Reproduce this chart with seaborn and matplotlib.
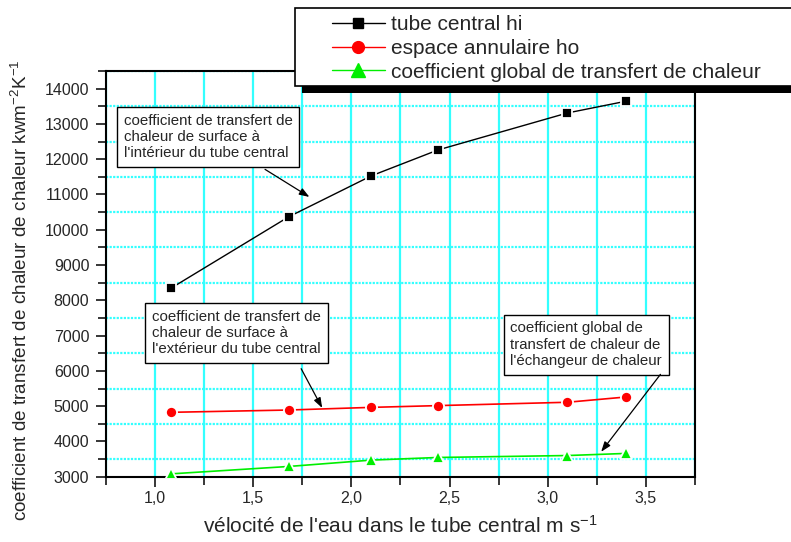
import matplotlib
matplotlib.use("Agg")
import matplotlib.pyplot as plt
from matplotlib.lines import Line2D
from matplotlib.patches import Rectangle
from matplotlib.ticker import MultipleLocator, FuncFormatter
import seaborn as sns

# values
velocity = [1.08, 1.68, 2.10, 2.44, 3.10, 3.40]
hi_tube = [8340, 10365, 11525, 12260, 13310, 13645]
ho_annulus = [4825, 4890, 4965, 5015, 5110, 5260]
u_global = [3080, 3290, 3470, 3545, 3600, 3660]

labels = ["tube central hi", "espace annulaire ho",
          "coefficient global de transfert de chaleur"]
notes = [
    "coefficient de transfert de\nchaleur de surface à\nl'intérieur du tube central",
    "coefficient de transfert de\nchaleur de surface à\nl'extérieur du tube central",
    "coefficient global de\ntransfert de chaleur de\nl'échangeur de chaleur",
]

sns.set_style("ticks")
plt.rcParams["font.family"] = ["Liberation Sans", "DejaVu Sans"]
plt.rcParams["mathtext.default"] = "regular"

W, H = 791, 542
fig, ax = plt.subplots(figsize=(W / 100, H / 100), dpi=100)
ax.set_position([106 / W, 1 - 476.7 / H, (695 - 106) / W, (476.7 - 71) / H])

# colour, marker, marker size (plot), line width, marker size (legend)
styles = [("black", "s", 6.5, 1.0, 6.5), ("red", "o", 8, 1.2, 8.5),
          ("#00ee00", "^", 9, 1.2, 9.5)]
for yvals, (col, mk, ms, lw, _) in zip([hi_tube, ho_annulus, u_global], styles):
    sns.lineplot(x=velocity, y=yvals, ax=ax, color=col, lw=lw, marker=mk,
                 markersize=ms, markeredgecolor="white", markeredgewidth=1.3,
                 sort=False, errorbar=None, zorder=4)

ax.set_xlim(0.75, 3.75)
ax.set_ylim(3000, 14500)
ax.xaxis.set_major_locator(MultipleLocator(0.5))
ax.xaxis.set_minor_locator(MultipleLocator(0.25))
ax.yaxis.set_major_locator(MultipleLocator(1000))
ax.yaxis.set_minor_locator(MultipleLocator(500))
ax.xaxis.set_major_formatter(FuncFormatter(lambda v, _: f"{v:.1f}".replace(".", ",")))

ax.grid(which="both", axis="x", color="#33ffff", lw=1.6, ls="-")
ax.grid(which="minor", axis="y", color="#33ffff", lw=1.6, ls=(0, (1, 0.6)))
ax.grid(which="major", axis="y", visible=False)
ax.set_axisbelow(True)

for side in ["left", "bottom", "top", "right"]:
    ax.spines[side].set_visible(True)
    ax.spines[side].set_color("black")
    ax.spines[side].set_linewidth(1.5)
ax.tick_params(which="both", direction="out", width=1.3, labelsize=11.5,
               top=False, right=False)
ax.tick_params(which="major", length=7)
ax.tick_params(which="minor", length=6)
ax.tick_params(axis="y", pad=5)
ax.tick_params(axis="x", pad=3)

ax.set_xlabel("vélocité de l'eau dans le tube central m s$^{-1}$", fontsize=15)
ax.set_ylabel("coefficient de transfert de chaleur de chaleur kwm$^{-2}$K$^{-1}$",
              fontsize=13.6)
ax.yaxis.set_label_coords(-0.128, 0.46)
ax.xaxis.set_label_coords(0.5, -0.093)

# annotation boxes and arrows
box = dict(boxstyle="square,pad=0.45", fc="white", ec="black", lw=1)
arrow = dict(arrowstyle="-|>,head_length=0.5,head_width=0.18", color="black",
             lw=0.9, mutation_scale=12, shrinkA=0, shrinkB=0)
text_pos = [(0.84, 13294), (0.984, 7737), (2.81, 7400)]
arrow_tail = [(1.56, 11712), (1.744, 6062), (3.574, 5901)]
arrow_head = [(1.786, 10930), (1.851, 4949), (3.272, 3706)]
for note, (tx, ty), tail, head in zip(notes, text_pos, arrow_tail, arrow_head):
    ax.text(tx, ty, note, fontsize=10.8, ha="left", va="top", bbox=box,
            zorder=6, linespacing=1.2)
    ax.annotate("", xy=head, xytext=tail, arrowprops=arrow, zorder=6)

# legend box with heavy drop shadow, running off the right edge
fig.add_artist(Rectangle((302 / W, 1 - 93 / H), 600 / W, 78 / H, fc="black",
                         ec="none", transform=fig.transFigure, zorder=3))
fig.add_artist(Rectangle((295 / W, 1 - 86 / H), 600 / W, 78 / H, fc="white",
                         ec="black", lw=1.2, transform=fig.transFigure, zorder=4))
proxies = [Line2D([], [], color=col, lw=1, marker=mk, markersize=lms,
                  markeredgecolor=col) for col, mk, ms, lw, lms in styles]
fig.legend(proxies, labels, loc="upper left", bbox_to_anchor=(331.7 / W, 1 - 15 / H),
           frameon=False, fontsize=15, handlelength=2.55, handletextpad=0.32,
           labelspacing=0.23, borderpad=0, borderaxespad=0)

fig.savefig("out.png", dpi=100)
